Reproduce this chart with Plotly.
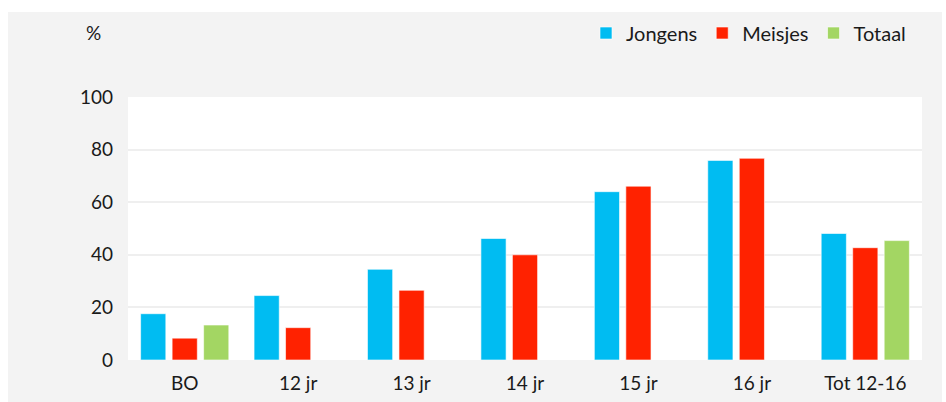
import plotly.graph_objects as go

categories = ["BO", "12 jr", "13 jr", "14 jr", "15 jr", "16 jr", "Tot 12-16"]
jongens = [17.6, 24.5, 34.5, 46.2, 64.0, 75.9, 48.1]
meisjes = [8.3, 12.3, 26.5, 40.0, 66.1, 76.7, 42.7]
totaal = [13.3, None, None, None, None, None, 45.4]

FONT = "Lato"
W, H = 946, 402
L, R, T, B = 128, 24, 97, 42
PW, PH = W - L - R, H - T - B


def px_x(x):
    return (x - L) / PW


def px_y(y):
    return (H - B - y) / PH


fig = go.Figure()
for name, vals, col in [
    ("Jongens", jongens, "#00bcf2"),
    ("Meisjes", meisjes, "#ff2200"),
    ("Totaal", totaal, "#a3d663"),
]:
    fig.add_trace(go.Bar(
        x=categories, y=vals, name=name,
        marker=dict(color=col, line=dict(color="rgba(255,255,255,0.6)", width=1)),
    ))

white = dict(type="rect", xref="paper", yref="paper", layer="above",
             fillcolor="white", line=dict(width=0))

fig.update_layout(
    width=W, height=H,
    margin=dict(l=L, r=R, t=T, b=B, autoexpand=False),
    paper_bgcolor="#f3f3f3",
    plot_bgcolor="white",
    barmode="group",
    bargap=0.167,
    bargroupgap=0.2,
    font=dict(family=FONT, size=19, color="#1a1a1a"),
    showlegend=True,
    legend=dict(
        orientation="h", xref="container", yref="container",
        x=(911 / W), xanchor="right", y=1 - 33 / H, yanchor="middle",
        bgcolor="rgba(0,0,0,0)", font=dict(size=20), traceorder="normal",
    ),
    xaxis=dict(showgrid=False, showline=False, ticks="", automargin=False,
               ticklabelstandoff=10, tickfont=dict(size=19)),
    yaxis=dict(
        range=[0, 100], dtick=20, showgrid=True, gridcolor="#efefef", gridwidth=2,
        zeroline=False, showline=False, ticks="", ticklabelstandoff=14, automargin=False,
        tickfont=dict(size=19),
    ),
    annotations=[dict(
        text="%", xref="paper", yref="paper", x=px_x(93), y=px_y(33),
        xanchor="center", yanchor="middle", showarrow=False, font=dict(size=19),
    )],
    shapes=[
        dict(white, x0=px_x(-10), x1=px_x(W + 10), y0=px_y(12), y1=px_y(-10)),
        dict(white, x0=px_x(-10), x1=px_x(8), y0=px_y(H + 10), y1=px_y(-10)),
        dict(white, x0=px_x(942), x1=px_x(W + 10), y0=px_y(H + 10), y1=px_y(-10)),
    ],
)

fig.write_html(
    "out.html",
    config={"displayModeBar": False},
    post_script="document.body.style.margin='0';document.body.style.overflow='hidden';",
)
